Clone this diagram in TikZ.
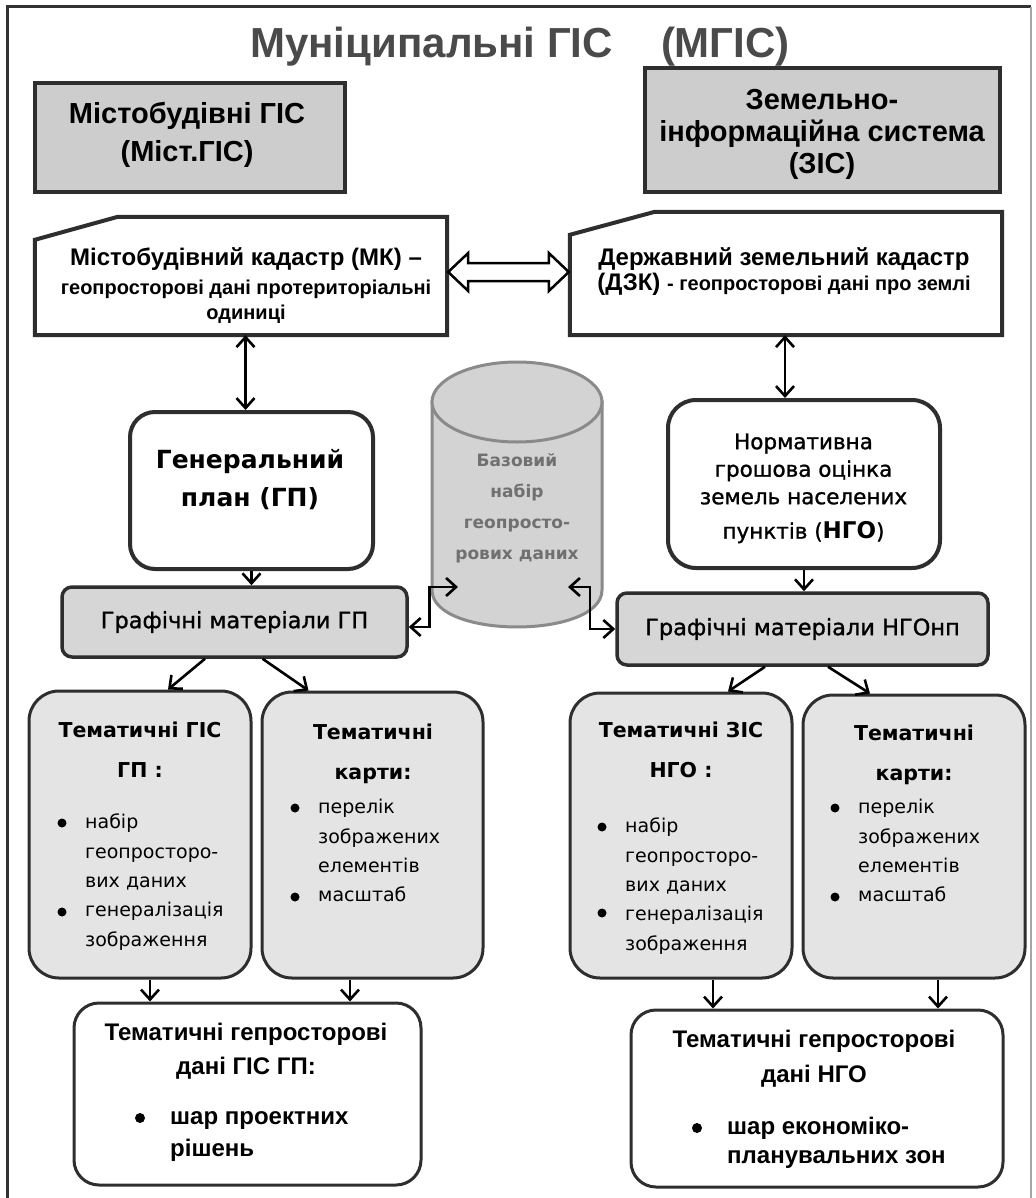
\documentclass[tikz,border=0pt]{standalone}
\usepackage{fontspec}
\setmainfont{Liberation Sans}
\newfontfamily\dv{DejaVu Sans}
\newfontfamily\dvm[FakeBold=1.2]{DejaVu Sans}
\usetikzlibrary{arrows.meta,calc}
\definecolor{titlegray}{HTML}{4A4A4A}
\definecolor{boxgray}{HTML}{CDCDCD}
\definecolor{grafgray}{HTML}{D6D6D6}
\definecolor{lightgraytwo}{HTML}{E4E4E4}
\definecolor{cylfill}{HTML}{D3D3D3}
\definecolor{cylline}{HTML}{8A8A8A}
\definecolor{cyltext}{HTML}{707070}
\definecolor{edge}{HTML}{2E2E2E}
\newcommand\fz[2]{\fontsize{#1}{#2}\selectfont}
\newcommand\hh[1]{\rule{0pt}{#1pt}}
\begin{document}
\begin{tikzpicture}[x=1pt,y=-1pt,
  arr/.style={-{Straight Barb[length=10pt,width=18pt]},line width=2.6pt},
  dbl/.style={{Straight Barb[length=10pt,width=18pt]}-{Straight Barb[length=10pt,width=18pt]},line width=2.6pt},
  gbox/.style={rectangle,draw=edge,line width=3.5pt,fill=boxgray,inner sep=0pt},
  card/.style={draw=edge,line width=4pt,fill=white,line join=miter},
  rbox/.style={rectangle,rounded corners=25pt,draw=edge,line width=4pt,fill=white,inner sep=0pt},
  grafbox/.style={rectangle,rounded corners=10pt,draw=edge,line width=3.5pt,fill=grafgray,inner sep=0pt,font=\dvm\fz{22.5}{27}},
  lbox/.style={rectangle,rounded corners=30pt,draw=edge,line width=3pt,fill=lightgraytwo,inner sep=0pt},
  bbox/.style={rectangle,rounded corners=25pt,draw=edge,line width=3pt,fill=white,inner sep=0pt},
  txt/.style={inner sep=0pt,align=center,anchor=north},
  ltxt/.style={inner sep=0pt,align=left,anchor=north west},
  tgtitle/.style={txt,font=\dv\bfseries\fz{20.5}{40}},
  tglist/.style={ltxt,font=\dv\fz{19}{29.4}},
]
\useasboundingbox (0,0) rectangle (1035,1198);
\fill[white] (0,0) rectangle (1035,1198);
% outer frame
\draw[line width=3pt,draw=black!80] (7,1198) -- (7,7) -- (1031,7);
\draw[line width=1.5pt,draw=black!35] (1031,7) -- (1031,1198);

% title
\node[anchor=base,font=\bfseries\fz{42}{48},text=titlegray,inner sep=0pt] (title) at (520,58) {Муніципальні ГІС\hspace{48pt}(МГІС)};

% top gray boxes
\node[gbox,minimum width=310pt,minimum height=109pt] (mgis) at (190,137.5) {};
\node[txt,font=\bfseries\fz{29}{38}] (mgist) at (187,98) {\hh{25}Містобудівні ГІС\\(Міст.ГІС)};
\node[gbox,minimum width=355pt,minimum height=124pt] (zis) at (822.5,130) {};
\node[txt,font=\bfseries\fz{29}{32}] (zist) at (822,84) {\hh{25}Земельно-\\інформаційна система\\(ЗІС)};

% cadastre cards
\node[minimum width=412pt,minimum height=118pt,inner sep=0pt] (mk) at (241,276) {};
\draw[card] (mk.south west) -- ($(mk.north west)+(0,23)$) -- ($(mk.north west)+(83,0)$) -- (mk.north east) -- (mk.south east) -- cycle;
\node[txt,font=\bfseries\fz{20}{25}] (mkt) at (246,244) {\hh{21}{\fz{24}{25}Містобудівний кадастр (МК) –}\\[4pt]геопросторові дані протериторіальні\\одиниці};
\node[minimum width=432pt,minimum height=123pt,inner sep=0pt] (dzk) at (786,273.5) {};
\draw[card] (dzk.south west) -- ($(dzk.north west)+(0,23)$) -- ($(dzk.north west)+(85,0)$) -- (dzk.north east) -- (dzk.south east) -- cycle;
\node[txt,font=\bfseries\fz{24}{25}] (dzkt) at (784,244) {\hh{21}Державний земельний кадастр\\(ДЗК) {\fz{20}{25}- геопросторові дані про землі}};

% hollow double arrow between cards
\coordinate (da1) at ($(mk.east)+(1,-4)$);
\coordinate (da2) at ($(dzk.west)+(-1,-1.5)$);
\draw[line width=2.5pt,fill=white,line join=miter] (da1) -- ++(20,-19) -- ++(0,10) -- ($(da2)+(-20,-9)$) -- ++(0,-10) -- (da2) -- ++(-20,19) -- ++(0,-10) -- ($(da1)+(20,9)$) -- ++(0,10) -- cycle;

% general plan and normative valuation
\node[rbox,minimum width=243pt,minimum height=157pt] (gp) at (251.5,490.5) {};
\node[txt,font=\dv\bfseries\fz{25}{38}] (gpt) at (250,444) {\hh{24}Генеральний\\план (ГП)};
\node[rbox,rounded corners=28pt,minimum width=272pt,minimum height=168pt] (ngo) at (804,484) {};
\node[txt,font=\dvm\fz{21.5}{27.5}] (ngot) at (803.5,427) {\hh{22}Нормативна\\грошова оцінка\\земель населених\\[7pt]пунктів ({\dv\bfseries\fz{23}{27.5}НГО})};

% cylinder
\node[minimum width=170pt,minimum height=265pt,inner sep=0pt] (cyl) at (517,494.5) {};
\draw[line width=3pt,draw=cylline,fill=cylfill] (432,402) -- (432,590) .. controls (432,639.3) and (602,639.3) .. (602,590) -- (602,402) -- cycle;
\draw[line width=3pt,draw=cylline,fill=cylfill] (517,402) ellipse [x radius=85,y radius=40];
\node[txt,font=\dv\bfseries\fz{17}{31},text=cyltext] (cylt) at (517,448) {\hh{18}Базовий\\набір\\геопросто-\\рових даних};
\coordinate (cylL) at (458,587);
\coordinate (cylR) at (568,587);

% graphic materials
\node[grafbox,minimum width=345pt,minimum height=70pt] (graf1) at (234.5,622) {Графічні матеріали ГП};
\node[grafbox,minimum width=371pt,minimum height=72pt] (graf2) at (802.5,629) {Графічні матеріали НГОнп};

% thematic boxes
\node[lbox,minimum width=222pt,minimum height=287pt] (tg1) at (140,834.5) {};
\node[lbox,minimum width=221pt,minimum height=286pt] (tg2) at (372.5,835) {};
\node[lbox,minimum width=222pt,minimum height=285pt] (tg3) at (681,835.5) {};
\node[lbox,minimum width=222pt,minimum height=283pt] (tg4) at (914,836.5) {};

\node[tgtitle] (tg1t) at (140,717) {\hh{20}Тематичні ГІС\\ГП :};
\node[tgtitle] (tg2t) at (373,719) {\hh{20}Тематичні\\карти:};
\node[tgtitle] (tg3t) at (681,717) {\hh{20}Тематичні ЗІС\\НГО :};
\node[tgtitle] (tg4t) at (914,720) {\hh{20}Тематичні\\карти:};

\node[tglist] (tg1l) at (85,808.5) {\hh{20}набір\\геопросторо-\\вих даних\\генералізація\\зображення};
\node[tglist] (tg2l) at (318,793.5) {\hh{20}перелік\\зображених\\елементів\\масштаб};
\node[tglist] (tg3l) at (625,812.5) {\hh{20}набір\\геопросторо-\\вих даних\\генералізація\\зображення};
\node[tglist] (tg4l) at (858,793.5) {\hh{20}перелік\\зображених\\елементів\\масштаб};
\fill (62,823) circle (4.5pt);
\fill (62,912) circle (4.5pt);
\fill (295,808) circle (4.5pt);
\fill (295,897) circle (4.5pt);
\fill (602,827) circle (4.5pt);
\fill (602,913) circle (4.5pt);
\fill (835,808) circle (4.5pt);
\fill (835,897) circle (4.5pt);

% bottom boxes
\node[bbox,minimum width=347pt,minimum height=182pt] (b1) at (247.5,1094) {};
\node[bbox,minimum width=372pt,minimum height=177pt] (b2) at (817,1098.5) {};
\node[txt,font=\bfseries\fz{24}{34}] (b1t) at (246,1020) {\hh{20}Тематичні гепросторові\\дані ГІС ГП:};
\node[ltxt,font=\bfseries\fz{24}{32}] (b1l) at (170,1104) {\hh{20}шар проектних\\рішень};
\node[txt,font=\bfseries\fz{24}{35}] (b2t) at (814,1027) {\hh{20}Тематичні гепросторові\\дані НГО};
\node[ltxt,font=\bfseries\fz{24}{29.5}] (b2l) at (727,1114) {\hh{20}шар економіко-\\планувальних зон};
\fill (140,1118) circle (5pt);
\fill (697,1128) circle (5pt);

% connectors
\coordinate (a1) at ($(gp.north)+(-6,0)$);
\draw[dbl] (a1 |- mk.south) -- (a1);
\coordinate (a2) at ($(ngo.north)+(-19,0)$);
\draw[dbl] (a2 |- dzk.south) -- (a2);
\draw[arr] (gp.south) -- (gp.south |- graf1.north);
\draw[arr] (ngo.south) -- (ngo.south |- graf2.north);
\draw[dbl] ($(graf1.east)+(0,5)$) -- ++(21,0) |- (cylL);
\draw[dbl] (cylR) -- ++(22,0) |- (graf2.west);
\draw[arr] ($(graf1.south)+(-29.5,0)$) -- ($(tg1.north)+(28,0)$);
\draw[arr] ($(graf1.south)+(28,0)$) -- ($(tg2.north)+(-64,0)$);
\draw[arr] ($(graf2.south)+(-37.5,0)$) -- ($(tg3.north)+(47,0)$);
\draw[arr] ($(graf2.south)+(25.5,0)$) -- ($(tg4.north)+(-44,0)$);
\coordinate (d1) at ($(tg1.south)+(10,0)$);
\coordinate (d2) at ($(tg2.south)+(-22.5,0)$);
\coordinate (d3) at ($(tg3.south)+(32,0)$);
\coordinate (d4) at ($(tg4.south)+(24,0)$);
\draw[arr] (d1) -- (d1 |- b1.north);
\draw[arr] (d2) -- (d2 |- b1.north);
\draw[arr] (d3) -- (d3 |- b2.north);
\draw[arr] (d4) -- (d4 |- b2.north);
\end{tikzpicture}
\end{document}
